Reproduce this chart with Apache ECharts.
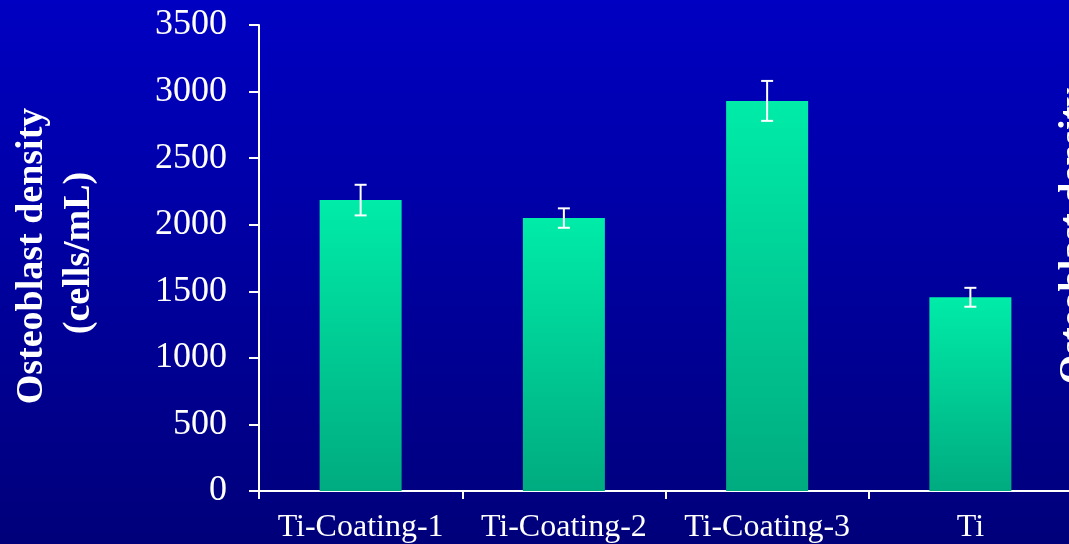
<!DOCTYPE html>
<html><head><meta charset="utf-8">
<script src="https://cdn.jsdelivr.net/npm/echarts@6/dist/echarts.min.js"></script>
<style>html,body{margin:0;padding:0;}#c{width:1069px;height:544px;}</style>
</head><body><div id="c"></div>
<script>
const categories = ['Ti-Coating-1', 'Ti-Coating-2', 'Ti-Coating-3', 'Ti'];
const density = [2185, 2050, 2930, 1455];
const errors = [115, 73, 150, 71];
const yTicks = [0, 500, 1000, 1500, 2000, 2500, 3000, 3500];
const yTitle = ['Osteoblast density', '(cells/mL)'];

const chart = echarts.init(document.getElementById('c'));
const serif = '"Liberation Serif", "Times New Roman", serif';
chart.setOption({
  backgroundColor: new echarts.graphic.LinearGradient(0, 0, 0, 1, [
    {offset: 0, color: '#0000c2'}, {offset: 1, color: '#00007a'}]),
  animation: false,
  grid: {left: 259, right: -3, top: 25, bottom: 53, containLabel: false, outerBoundsMode: 'none'},
  xAxis: {
    type: 'category', data: categories,
    axisLine: {lineStyle: {color: '#ffffff', width: 2}},
    axisTick: {show: true, length: 8, lineStyle: {color: '#ffffff', width: 2}},
    axisLabel: {color: '#ffffff', fontFamily: serif, fontSize: 32, margin: 21, interval: 0}
  },
  yAxis: {
    type: 'value', min: yTicks[0], max: yTicks[yTicks.length - 1], interval: 500,
    splitLine: {show: false},
    axisLine: {show: true, lineStyle: {color: '#ffffff', width: 2}},
    axisTick: {show: true, length: 10, lineStyle: {color: '#ffffff', width: 2}},
    axisLabel: {color: '#ffffff', fontFamily: serif, fontSize: 36, margin: 32,
                formatter: v => String(v)}
  },
  graphic: [
    {type: 'text', x: 32, y: 256, rotation: Math.PI / 2,
     style: {text: yTitle[0], fill: '#fff', font: 'bold 38px ' + serif, textAlign: 'center', textVerticalAlign: 'middle'}},
    {type: 'text', x: 79, y: 253, rotation: Math.PI / 2,
     style: {text: yTitle[1], fill: '#fff', font: 'bold 38px ' + serif, textAlign: 'center', textVerticalAlign: 'middle'}},
    {type: 'text', x: 1075, y: 236, rotation: Math.PI / 2,
     style: {text: yTitle[0], fill: '#fff', font: 'bold 38px ' + serif, textAlign: 'center', textVerticalAlign: 'middle'}}
  ],
  series: [
    {
      type: 'bar', data: density, barWidth: 82,
      itemStyle: {color: new echarts.graphic.LinearGradient(0, 0, 0, 1, [
        {offset: 0, color: '#00eca8'}, {offset: 1, color: '#00ab80'}])}
    },
    {
      type: 'custom',
      data: density.map((v, i) => [i, v - errors[i], v + errors[i]]),
      renderItem: function (params, api) {
        const lo = api.coord([api.value(0), api.value(1)]);
        const hi = api.coord([api.value(0), api.value(2)]);
        const hw = 6;
        const st = {stroke: '#ffffff', lineWidth: 2};
        return {type: 'group', children: [
          {type: 'line', shape: {x1: lo[0], y1: lo[1], x2: hi[0], y2: hi[1]}, style: st},
          {type: 'line', shape: {x1: lo[0] - hw, y1: lo[1], x2: lo[0] + hw, y2: lo[1]}, style: st},
          {type: 'line', shape: {x1: hi[0] - hw, y1: hi[1], x2: hi[0] + hw, y2: hi[1]}, style: st}
        ]};
      },
      z: 5
    }
  ]
});
</script></body></html>
